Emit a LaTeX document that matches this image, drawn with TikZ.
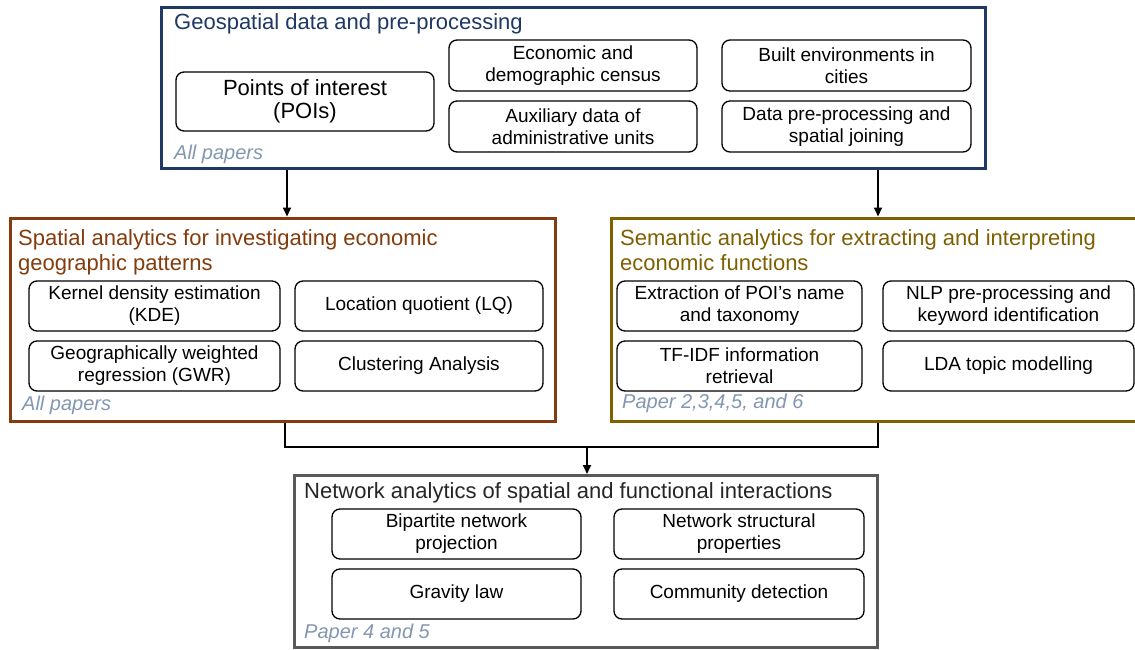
\documentclass[tikz,border=0pt]{standalone}
\usepackage{fontspec}
\setmainfont{Liberation Sans}
\usetikzlibrary{arrows.meta,calc}
\definecolor{topblue}{RGB}{31,56,100}
\definecolor{spbrown}{RGB}{132,60,12}
\definecolor{semolive}{RGB}{127,96,0}
\definecolor{netgray}{RGB}{89,89,89}
\definecolor{nettext}{RGB}{38,38,38}
\definecolor{notecol}{RGB}{132,151,176}
\begin{document}
\begin{tikzpicture}[x=1pt,y=-1pt,
  outerbox/.style={draw,line width=3pt,inner sep=0pt},
  ibox/.style={draw,line width=1.3pt,rounded corners=8pt,inner sep=0pt,align=center,
    font=\fontsize{19}{22}\selectfont},
  titletext/.style={anchor=base west,inner sep=0pt,font=\fontsize{22}{25}\selectfont,align=left},
  notetext/.style={anchor=base west,inner sep=0pt,font=\fontsize{20}{22}\selectfont\itshape,text=notecol},
  conn/.style={line width=1.8pt},
  arr/.style={line width=1.8pt,-{Triangle[length=9pt,width=8pt]}}
]
\useasboundingbox (0,0) rectangle (1135,650);
\fill[white] (0,0) rectangle (1135,650);

% outer boxes
\node[outerbox,draw=topblue,minimum width=824pt,minimum height=160pt] (top) at (573.5,88) {};
\node[outerbox,draw=spbrown,minimum width=545pt,minimum height=203pt] (lbox) at (282.5,319.5) {};
\node[outerbox,draw=semolive,minimum width=532pt,minimum height=203pt] (rbox) at (877,319.5) {};
\node[outerbox,draw=netgray,minimum width=583pt,minimum height=172pt] (bbox) at (586,561.5) {};

% top box content
\node[titletext,text=topblue] (ttitle) at (174,30) {Geospatial data and pre-processing};
\node[ibox,minimum width=258pt,minimum height=59pt,font=\fontsize{22}{23.5}\selectfont] (poi) at (305,101.5) {Points of interest\\(POIs)};
\node[ibox,minimum width=248pt,minimum height=51pt] (econ) at (573,65.5) {Economic and\\demographic census};
\node[ibox,minimum width=248pt,minimum height=51pt] (aux) at (573,126.5) {Auxiliary data of\\administrative units};
\node[ibox,minimum width=249pt,minimum height=51pt] (built) at (846.5,65.5) {Built environments in\\cities};
\node[ibox,minimum width=249pt,minimum height=51pt] (prep) at (846.5,126.5) {Data pre-processing and\\spatial joining};
\node[notetext] (tnote) at (174,160) {All papers};

% left box content
\node[titletext,text=spbrown] (ltitle) at (18,270) {Spatial analytics for investigating economic\\geographic patterns};
\node[ibox,minimum width=251pt,minimum height=50pt] (kde) at (154.5,306) {Kernel density estimation\\(KDE)};
\node[ibox,minimum width=248pt,minimum height=50pt] (lq) at (419,306) {Location quotient (LQ)};
\node[ibox,minimum width=251pt,minimum height=50pt] (gwr) at (154.5,366) {Geographically weighted\\regression (GWR)};
\node[ibox,minimum width=248pt,minimum height=50pt] (clus) at (419,366) {Clustering Analysis};
\node[notetext] (lnote) at (22,410) {All papers};

% right box content
\node[titletext,text=semolive] (rtitle) at (620,270) {Semantic analytics for extracting and interpreting\\economic functions};
\node[ibox,minimum width=245pt,minimum height=50pt] (extr) at (739.5,306) {Extraction of POI’s name\\and taxonomy};
\node[ibox,minimum width=251pt,minimum height=50pt] (nlp) at (1008.5,306) {NLP pre-processing and\\keyword identification};
\node[ibox,minimum width=245pt,minimum height=50pt] (tfidf) at (739.5,366) {TF-IDF information\\retrieval};
\node[ibox,minimum width=251pt,minimum height=50pt] (lda) at (1008.5,366) {LDA topic modelling};
\node[notetext] (rnote) at (622,408) {Paper 2,3,4,5, and 6};

% bottom box content
\node[titletext,text=nettext] (btitle) at (304,498) {Network analytics of spatial and functional interactions};
\node[ibox,minimum width=249pt,minimum height=50pt] (bip) at (456.5,534) {Bipartite network\\projection};
\node[ibox,minimum width=250pt,minimum height=50pt] (nsp) at (739,534) {Network structural\\properties};
\node[ibox,minimum width=249pt,minimum height=50pt] (grav) at (456.5,594) {Gravity law};
\node[ibox,minimum width=250pt,minimum height=50pt] (comm) at (739,594) {Community detection};
\node[notetext] (bnote) at (304,638) {Paper 4 and 5};

% connectors
\coordinate (cl) at (287,0);
\coordinate (cr) at (878,0);
\coordinate (cm) at (285,0);
\coordinate (jn) at (587,447);
\draw[arr] (cl |- top.south) -- (cl |- lbox.north);
\draw[arr] (cr |- top.south) -- (cr |- rbox.north);
\draw[conn] (cm |- lbox.south) |- (jn) -| (cr |- rbox.south);
\draw[arr] (jn) -- (jn |- bbox.north);
\end{tikzpicture}
\end{document}
